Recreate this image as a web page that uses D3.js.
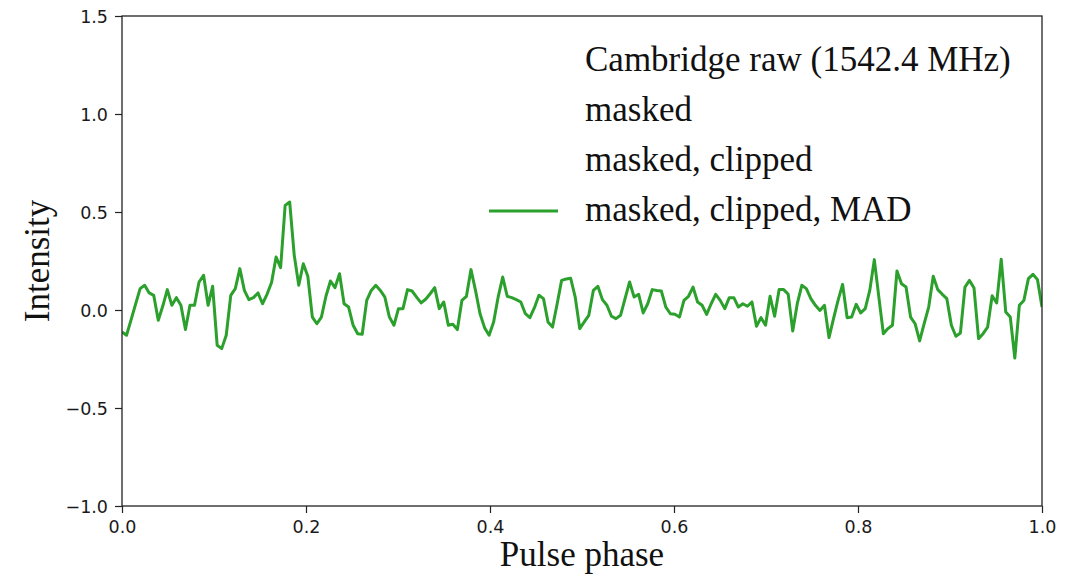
<!DOCTYPE html>
<html>
<head>
<meta charset="utf-8">
<script src="https://cdn.jsdelivr.net/npm/d3@7"></script>
<style>
  html, body { margin: 0; padding: 0; background: #ffffff; }
  svg { display: block; }
</style>
</head>
<body>
<svg id="chart" width="1084" height="577"></svg>
<script>
// Folded pulse profile: intensity per phase bin (masked, clipped, MAD-normalised)
const intensity = [
  -0.112, -0.129, -0.05, 0.03, 0.109, 0.126, 0.087, 0.075, -0.052, 0.02,
  0.104, 0.024, 0.063, 0.024, -0.1, 0.024, 0.024, 0.143, 0.177, 0.024,
  0.121, -0.18, -0.197, -0.129, 0.075, 0.109, 0.211, 0.1, 0.053, 0.063,
  0.087, 0.032, 0.08, 0.14,
  0.27, 0.216, 0.534, 0.551, 0.28, 0.126, 0.236, 0.172, -0.036, -0.07,
  -0.036, 0.07, 0.148, 0.114, 0.185, 0.032, 0.015, -0.078, -0.121, -0.124,
  0.049, 0.1, 0.126, 0.1, 0.066, -0.036, -0.078, 0.007, 0.007, 0.104,
  0.097, 0.066, 0.036, 0.055,
  0.083, 0.114, 0.007, 0.041, -0.078, -0.073, -0.1, 0.049, 0.07, 0.206,
  0.1, -0.019, -0.09, -0.129, -0.061, 0.066, 0.168, 0.07, 0.063, 0.053,
  0.041, -0.019, -0.039, 0.012, 0.075, 0.058, -0.061, -0.087, 0.029, 0.151,
  0.158, 0.162, 0.066, -0.095,
  -0.061, -0.027, 0.1, 0.121, 0.053, 0.024, -0.032, -0.044, -0.027, 0.058,
  0.143, 0.066, 0.08, -0.015, 0.032, 0.104, 0.1, 0.097, 0.015, -0.019,
  -0.022, -0.036, 0.049, 0.07, 0.117, 0.041, 0.024, -0.022, 0.032, 0.08,
  0.049, 0.007, 0.063, 0.063,
  0.015, 0.032, 0.019, 0.041, -0.083, -0.039, -0.078, 0.07, -0.032, 0.104,
  0.104, 0.08, -0.107, 0.032, 0.126, 0.109, 0.058, 0.024, -0.002, 0.024,
  -0.141, -0.044, 0.049, 0.131, -0.039, -0.036, 0.029, -0.015, 0.007, 0.1,
  0.257, 0.066, -0.121, -0.095,
  -0.078, 0.199, 0.134, 0.117, -0.036, -0.07, -0.158, -0.07, 0.015, 0.172,
  0.104, 0.08, 0.058, -0.078, -0.134, -0.117, 0.117, 0.151, 0.112, -0.146,
  -0.121, -0.087, 0.073, 0.036, 0.259, -0.01, -0.036, -0.245, 0.024, 0.049,
  0.16, 0.182, 0.155, 0.015
];

// Evenly spaced phase bins spanning one full rotation
const phase = intensity.map((_, i) => i / (intensity.length - 1));

const xTicks = [0, 0.2, 0.4, 0.6, 0.8, 1.0];
const xTickLabels = ["0.0", "0.2", "0.4", "0.6", "0.8", "1.0"];
const yTicks = [-1.0, -0.5, 0.0, 0.5, 1.0, 1.5];
const yTickLabels = ["\u22121.0", "\u22120.5", "0.0", "0.5", "1.0", "1.5"];

const legendLabels = [
  "Cambridge raw (1542.4 MHz)",
  "masked",
  "masked, clipped",
  "masked, clipped, MAD"
];
const legendHasLine = [false, false, false, true];

const xLabel = "Pulse phase";
const yLabel = "Intensity";

// Layout
const plot = { left: 122, right: 1042, top: 16, bottom: 506 };
const lineColor = "#2ca02c";
const lineWidth = 3;
const serif = "'Liberation Serif', 'Times New Roman', serif";
const sans = "'DejaVu Sans', sans-serif";

const svg = d3.select("#chart");

const x = d3.scaleLinear().domain([0, 1]).range([plot.left, plot.right]);
const y = d3.scaleLinear().domain([-1, 1.5]).range([plot.bottom, plot.top]);

// Clip region for the data line
svg.append("defs").append("clipPath").attr("id", "plot-clip")
  .append("rect")
  .attr("x", plot.left).attr("y", plot.top)
  .attr("width", plot.right - plot.left)
  .attr("height", plot.bottom - plot.top);

// Profile line
const line = d3.line()
  .x((d, i) => x(phase[i]))
  .y(d => y(d));

svg.append("path")
  .datum(intensity)
  .attr("clip-path", "url(#plot-clip)")
  .attr("fill", "none")
  .attr("stroke", lineColor)
  .attr("stroke-width", lineWidth)
  .attr("stroke-linejoin", "round")
  .attr("stroke-linecap", "butt")
  .attr("d", line);

// Axes
const xAxis = d3.axisBottom(x)
  .tickValues(xTicks)
  .tickFormat((d, i) => xTickLabels[i])
  .tickSize(7).tickSizeOuter(0).tickPadding(8);

const yAxis = d3.axisLeft(y)
  .tickValues(yTicks)
  .tickFormat((d, i) => yTickLabels[i])
  .tickSize(7).tickSizeOuter(0).tickPadding(7);

const gx = svg.append("g")
  .attr("transform", `translate(0,${plot.bottom})`)
  .call(xAxis);
const gy = svg.append("g")
  .attr("transform", `translate(${plot.left},0)`)
  .call(yAxis);

[gx, gy].forEach(g => {
  g.select(".domain").remove();
  g.selectAll(".tick line").attr("stroke", "#222").attr("stroke-width", 1.2);
  g.selectAll(".tick text")
    .attr("fill", "#1a1a1a")
    .style("font-family", sans)
    .style("font-size", "17.5px");
});
gy.selectAll(".tick text").attr("dy", "0.36em");

// Frame (all four spines)
svg.append("rect")
  .attr("x", plot.left).attr("y", plot.top)
  .attr("width", plot.right - plot.left)
  .attr("height", plot.bottom - plot.top)
  .attr("fill", "none")
  .attr("stroke", "#222")
  .attr("stroke-width", 1.3);

// Axis labels
svg.append("text")
  .attr("x", (plot.left + plot.right) / 2)
  .attr("y", 566)
  .attr("text-anchor", "middle")
  .attr("fill", "#111")
  .style("font-family", serif)
  .style("font-size", "35px")
  .text(xLabel);

svg.append("text")
  .attr("transform", `translate(49,${(plot.top + plot.bottom) / 2}) rotate(-90)`)
  .attr("text-anchor", "middle")
  .attr("fill", "#111")
  .style("font-family", serif)
  .style("font-size", "35px")
  .text(yLabel);

// Legend
const legend = svg.append("g").attr("transform", "translate(489,71)");
const rowGap = 50;
legendLabels.forEach((label, i) => {
  const row = legend.append("g").attr("transform", `translate(0,${i * rowGap})`);
  if (legendHasLine[i]) {
    row.append("line")
      .attr("x1", 0).attr("x2", 69)
      .attr("y1", -10).attr("y2", -10)
      .attr("stroke", lineColor)
      .attr("stroke-width", lineWidth);
  }
  row.append("text")
    .attr("x", 96)
    .attr("y", 0)
    .attr("fill", "#111")
    .style("font-family", serif)
    .style("font-size", "35px")
    .text(label);
});
</script>
</body>
</html>
